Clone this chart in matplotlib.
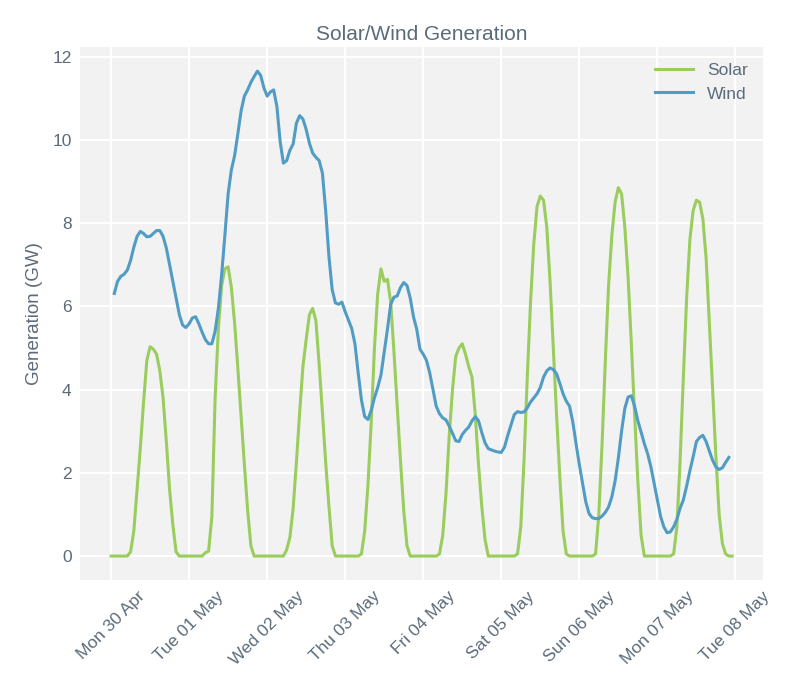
import numpy as np
import pandas as pd
import matplotlib
matplotlib.use('Agg')
import matplotlib.pyplot as plt
import matplotlib.dates as mdates

plt.rcParams['font.family'] = ['Liberation Sans', 'DejaVu Sans']

# hourly solar generation (GW), Mon 30 Apr 00:00 -> Mon 07 May 23:00
solar = [
    0, 0, 0, 0, 0, 0, 0.1, 0.6, 1.6, 2.6, 3.7, 4.7, 5.03, 4.97, 4.85, 4.45, 3.8, 2.75, 1.6, 0.75, 0.1, 0, 0, 0,
    0, 0, 0, 0, 0, 0.08, 0.12, 0.95, 3.8, 5.45, 6.5, 6.9, 6.95, 6.45, 5.6, 4.5, 3.35, 2.2, 1.1, 0.25, 0, 0, 0, 0,
    0, 0, 0, 0, 0, 0, 0.15, 0.45, 1.15, 2.25, 3.45, 4.55, 5.2, 5.8, 5.95, 5.65, 4.6, 3.45, 2.25, 1.2, 0.25, 0, 0, 0,
    0, 0, 0, 0, 0, 0.05, 0.6, 1.7, 3.2, 5.0, 6.3, 6.9, 6.6, 6.65, 6.1, 4.9, 3.6, 2.3, 1.1, 0.25, 0, 0, 0, 0,
    0, 0, 0, 0, 0, 0.05, 0.5, 1.5, 2.9, 4.0, 4.8, 5.0, 5.1, 4.85, 4.55, 4.3, 3.4, 2.2, 1.2, 0.4, 0, 0, 0, 0,
    0, 0, 0, 0, 0, 0.05, 0.7, 2.3, 4.3, 6.1, 7.5, 8.4, 8.65, 8.55, 7.9, 6.6, 5.0, 3.4, 1.9, 0.6, 0.05, 0, 0, 0,
    0, 0, 0, 0, 0, 0.05, 1.0, 2.7, 4.7, 6.5, 7.7, 8.5, 8.85, 8.7, 7.9, 6.7, 5.1, 3.4, 1.8, 0.5, 0, 0, 0, 0,
    0, 0, 0, 0, 0, 0.05, 0.7, 2.3, 4.3, 6.2, 7.6, 8.3, 8.55, 8.5, 8.1, 7.15, 5.6, 4.0, 2.4, 1.0, 0.3, 0.05, 0, 0,
]

# hourly wind generation (GW), Mon 30 Apr 01:00 -> Mon 07 May 22:00
wind = [
    6.31, 6.6, 6.72, 6.77, 6.87, 7.1, 7.42, 7.68, 7.8, 7.75, 7.67, 7.68, 7.75, 7.82, 7.82, 7.68, 7.4, 7.0, 6.6, 6.2, 5.8, 5.55, 5.49,
    5.58, 5.72, 5.75, 5.58, 5.38, 5.2, 5.1, 5.1, 5.4, 5.95, 6.75, 7.7, 8.7, 9.28, 9.62, 10.15, 10.7, 11.05, 11.2, 11.38, 11.52, 11.65, 11.55, 11.25,
    11.05, 11.15, 11.2, 10.8, 9.96, 9.44, 9.5, 9.75, 9.9, 10.4, 10.58, 10.5, 10.25, 9.92, 9.68, 9.58, 9.5, 9.2, 8.3, 7.2, 6.4, 6.08, 6.05, 6.1,
    5.87, 5.67, 5.47, 5.1, 4.4, 3.75, 3.35, 3.28, 3.5, 3.8, 4.05, 4.35, 4.9, 5.45, 6.05, 6.22, 6.25, 6.45, 6.57, 6.5, 6.2, 5.75, 5.45, 4.97,
    4.85, 4.7, 4.4, 4.0, 3.6, 3.42, 3.32, 3.27, 3.12, 2.95, 2.77, 2.75, 2.92, 3.02, 3.1, 3.25, 3.35, 3.25, 2.97, 2.72, 2.58, 2.55, 2.52, 2.5,
    2.49, 2.62, 2.9, 3.15, 3.4, 3.47, 3.45, 3.46, 3.56, 3.7, 3.8, 3.9, 4.05, 4.3, 4.45, 4.52, 4.48, 4.38, 4.15, 3.9, 3.72, 3.6, 3.22, 2.7,
    2.2, 1.75, 1.3, 1.02, 0.92, 0.9, 0.9, 0.96, 1.05, 1.18, 1.42, 1.8, 2.35, 3.0, 3.55, 3.82, 3.85, 3.6, 3.25, 2.98, 2.7, 2.46, 2.15, 1.75,
    1.35, 0.95, 0.7, 0.56, 0.58, 0.7, 0.88, 1.15, 1.35, 1.68, 2.05, 2.38, 2.75, 2.85, 2.9, 2.75, 2.52, 2.3, 2.14, 2.08, 2.12, 2.25, 2.37,
]

solar_time = pd.date_range('2018-04-30 00:00', periods=len(solar), freq='h')
wind_time = pd.date_range('2018-04-30 01:00', periods=len(wind), freq='h')

text_col = '#5b6b7a'

fig = plt.figure(figsize=(8, 7), dpi=100)
ax = fig.add_axes([0.1, 0.171, 0.854, 0.762])
ax.set_facecolor('#f2f2f2')
for s in ax.spines.values():
    s.set_visible(False)
ax.grid(True, color='white', linewidth=1.5)
ax.set_axisbelow(True)

ax.plot(solar_time, solar, color='#9acd5e', linewidth=2.2, label='Solar')
ax.plot(wind_time, wind, color='#519cc4', linewidth=2.2, label='Wind')

ax.xaxis.set_major_locator(mdates.DayLocator())
ax.xaxis.set_major_formatter(mdates.DateFormatter('%a %d %b'))
ax.set_yticks([0, 2, 4, 6, 8, 10, 12])
ax.tick_params(axis='both', length=0, colors=text_col, labelsize=12.5, pad=6)
plt.setp(ax.get_xticklabels(), rotation=45, ha='center')

ax.set_ylabel('Generation (GW)', color=text_col, fontsize=13.5, labelpad=7)
ax.set_title('Solar/Wind Generation', color=text_col, fontsize=15, pad=5)

leg = ax.legend(loc='upper right', frameon=False, fontsize=12.5, handlelength=2.2)
for t in leg.get_texts():
    t.set_color(text_col)

fig.savefig('out.png', dpi=100)
